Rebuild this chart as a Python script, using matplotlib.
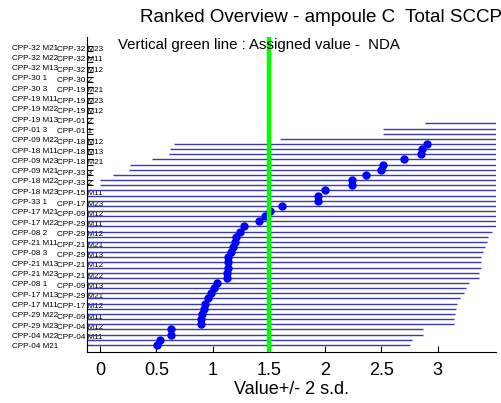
import numpy as np
import matplotlib
matplotlib.use("Agg")
import matplotlib.pyplot as plt
from matplotlib import transforms

# Laboratorios, de arriba (mayor valor) a abajo (menor valor)
labels = [
    "CPP-32 M21", "CPP-32 M23", "CPP-32 M22", "CPP-32 M11", "CPP-32 M13",
    "CPP-32 M12", "CPP-30 1", "CPP-30 2", "CPP-30 3", "CPP-19 M21",
    "CPP-19 M11", "CPP-19 M23", "CPP-19 M22", "CPP-19 M12", "CPP-19 M13",
    "CPP-01 2", "CPP-01 3", "CPP-01 1", "CPP-09 M22", "CPP-18 M12",
    "CPP-18 M11", "CPP-18 M13", "CPP-09 M23", "CPP-18 M21", "CPP-09 M21",
    "CPP-33 3", "CPP-18 M22", "CPP-33 2", "CPP-18 M23", "CPP-15 M11",
    "CPP-33 1", "CPP-17 M23", "CPP-17 M21", "CPP-09 M12", "CPP-17 M22",
    "CPP-29 M11", "CPP-08 2", "CPP-29 M12", "CPP-21 M11", "CPP-21 M21",
    "CPP-08 3", "CPP-29 M13", "CPP-21 M13", "CPP-21 M12", "CPP-21 M23",
    "CPP-21 M22", "CPP-08 1", "CPP-09 M13", "CPP-17 M13", "CPP-29 M21",
    "CPP-17 M11", "CPP-17 M12", "CPP-29 M22", "CPP-09 M11", "CPP-29 M23",
    "CPP-04 M12", "CPP-04 M22", "CPP-04 M11", "CPP-04 M21",
]

# Valores (los primeros quedan fuera del rango visible)
values = [
    12.5, 11.8, 10.9, 10.2, 9.6, 9.1, 8.4, 8.0, 7.7, 7.3,
    7.0, 6.7, 6.4, 6.1, 5.9, 5.13, 4.75, 4.75, 3.84, 2.90,
    2.86, 2.85, 2.70, 2.51, 2.50, 2.36, 2.24, 2.24, 2.00, 1.94,
    1.94, 1.62, 1.51, 1.47, 1.41, 1.28, 1.24, 1.21, 1.20, 1.18,
    1.16, 1.14, 1.14, 1.14, 1.13, 1.13, 1.04, 1.01, 0.99, 0.96,
    0.93, 0.92, 0.91, 0.90, 0.90, 0.63, 0.63, 0.53, 0.51,
]

two_sd = 2.24        # +/- 2 s.d.
assigned = 1.5       # valor asignado (NDA)
x_ticks = [0, 0.5, 1, 1.5, 2, 2.5, 3]

values = np.array(values)
n = len(values)
y = np.arange(n, 0, -1)

fig = plt.figure(figsize=(5.02, 4.03), dpi=100)
plt.rcParams["font.family"] = ["Liberation Sans", "DejaVu Sans"]
ax = fig.add_axes([87 / 502, 51 / 403, 409 / 502, 315 / 403])

ax.hlines(y, values - two_sd, values + two_sd, color="#3a3aa8", lw=1, zorder=2)
ax.plot(values, y, "o", color="#0000ff", ms=5, zorder=3)
ax.axvline(assigned, color="#00ff00", lw=3.2, zorder=4)

ax.set_xlim(-0.115, 3.517)
ax.set_ylim(-0.4, 60.8)
ax.set_xticks(x_ticks)
ax.set_xticklabels([f"{t:g}" for t in x_ticks], fontsize=13)
ax.set_yticks(y)
ax.set_yticklabels([])
ax.tick_params(axis="x", direction="in", length=4, pad=7)
ax.tick_params(axis="y", direction="in", length=4)
ax.spines["top"].set_visible(False)
ax.spines["right"].set_visible(False)
ax.set_xlabel("Value+/- 2 s.d.", fontsize=13, labelpad=2)

# etiquetas en dos columnas alternadas
trans = transforms.blended_transform_factory(fig.transFigure, ax.transData)
for i, (lab, yy) in enumerate(zip(labels, y)):
    if i % 2 == 0:
        ax.text(12 / 502, yy - 0.35, lab, transform=trans, fontsize=5.9,
                ha="left", va="center", clip_on=False, zorder=1)
    else:
        ax.text(57 / 502, yy + 0.35, lab, transform=trans, fontsize=5.9,
                ha="left", va="center", clip_on=False, zorder=1)

fig.text(140 / 502, 1 - 18 / 403, "Ranked Overview - ampoule C  Total SCCP",
         fontsize=13.5, ha="left", va="center")
fig.text(118 / 502, 1 - 45 / 403, "Vertical green line : Assigned value -  NDA",
         fontsize=10.8, ha="left", va="center")

fig.savefig("out.png", dpi=100)
